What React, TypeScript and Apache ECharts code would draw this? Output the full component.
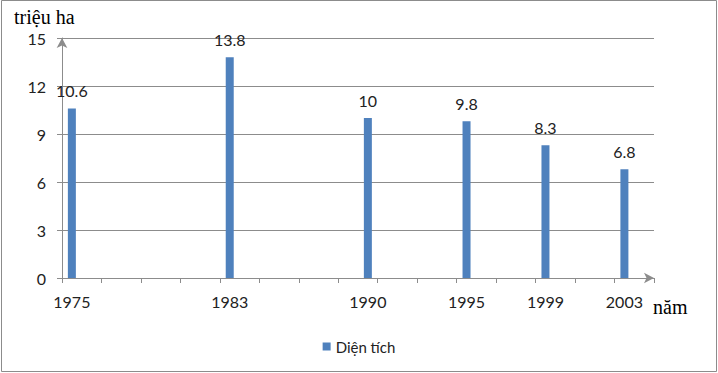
import React, { useEffect, useRef } from 'react';
import * as echarts from 'echarts';

const dataYears = ['1975', '1983', '1990', '1995', '1999', '2003'];
const areaValues = [10.6, 13.8, 10, 9.8, 8.3, 6.8];
const axisStartYear = 1975;
const axisEndYear = 2004;
const yMin = 0;
const yMax = 15;
const yStep = 3;
const seriesName = 'Diện tích';
const yUnit = 'triệu ha';
const xUnit = 'năm';

const FONT = 'Lato, "Noto Sans", sans-serif';
const SERIF = '"Liberation Serif", "DejaVu Serif", serif';

export default function App() {
  const ref = useRef<HTMLDivElement>(null);
  useEffect(() => {
    const chart = echarts.init(ref.current!, null, { renderer: 'svg' });
    const categories: string[] = [];
    for (let y = axisStartYear; y <= axisEndYear; y++) categories.push(String(y));
    const seriesData = categories.map((c) => {
      const i = dataYears.indexOf(c);
      return i >= 0 ? areaValues[i] : '-';
    });
    chart.setOption({
      animation: false,
      grid: { left: 62, right: 64, top: 38, bottom: 95, containLabel: false },
      legend: {
        data: [seriesName],
        top: 334,
        left: 'center',
        icon: 'rect',
        itemWidth: 8,
        itemHeight: 8,
        itemGap: 6,
        textStyle: { fontFamily: FONT, fontSize: 15, color: '#222' },
      },
      graphic: [
        {
          type: 'rect',
          shape: { x: 1.5, y: 0.5, width: 715, height: 371 },
          style: { fill: 'none', stroke: '#8c8c8c', lineWidth: 1 },
          silent: true,
        },
        {
          type: 'text',
          left: 14,
          top: 7,
          style: { text: yUnit, font: `20px ${SERIF}`, fill: '#000' },
        },
        {
          type: 'text',
          left: 653,
          top: 297,
          style: { text: xUnit, font: `20px ${SERIF}`, fill: '#000' },
        },
      ],
      xAxis: {
        type: 'category',
        data: categories,
        boundaryGap: true,
        axisLine: {
          show: true,
          lineStyle: { color: '#8c8c8c', width: 1 },
          symbol: ['none', 'arrow'],
          symbolSize: [8, 10],
        },
        axisTick: { show: true, interval: 1, length: 5, lineStyle: { color: '#8c8c8c' } },
        axisLabel: {
          interval: (_i: number, v: string) => dataYears.includes(v),
          margin: 15,
          fontFamily: FONT,
          fontSize: 16,
          color: '#222',
        },
        splitLine: { show: false },
      },
      yAxis: {
        type: 'value',
        min: yMin,
        max: yMax,
        interval: yStep,
        axisLine: {
          show: true,
          lineStyle: { color: '#8c8c8c', width: 1 },
          symbol: ['none', 'arrow'],
          symbolSize: [8, 10],
        },
        axisTick: { show: true, length: 5, lineStyle: { color: '#8c8c8c' } },
        axisLabel: { margin: 16, fontFamily: FONT, fontSize: 16, color: '#222' },
        splitLine: { show: true, lineStyle: { color: '#8c8c8c', width: 1 } },
      },
      series: [
        {
          name: seriesName,
          type: 'bar',
          data: seriesData,
          barWidth: 8,
          itemStyle: { color: '#4f81bd' },
          label: {
            show: true,
            position: 'top',
            distance: 10,
            fontFamily: FONT,
            fontSize: 16,
            color: '#222',
          },
        },
      ],
    });
    return () => chart.dispose();
  }, []);
  return (
    <div
      ref={ref}
      style={{ position: 'absolute', left: 0, top: 0, width: 718, height: 373, background: '#fff' }}
    />
  );
}
